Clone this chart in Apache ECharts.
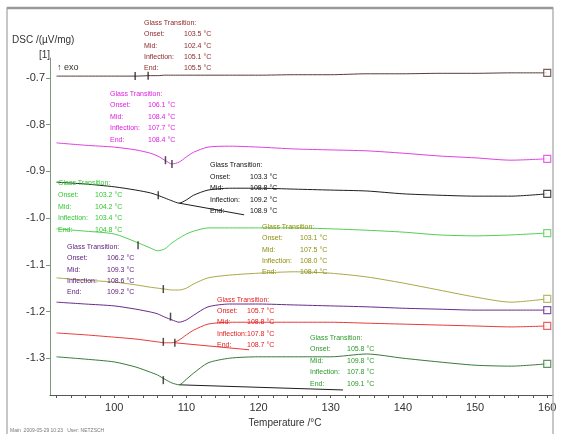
<!DOCTYPE html>
<html><head><meta charset="utf-8">
<script src="https://cdn.jsdelivr.net/npm/echarts@6/dist/echarts.min.js"></script>
<style>html,body{margin:0;padding:0;background:#fff}#c{width:563px;height:434px}</style>
</head><body><div id="c"></div>
<script>
// ---- data ----
const temps = [92,96,100,103,105,106,107,108,109,110,111,113,116,120,125,130,135,140,145,150,155,160];
const dscTop     = [-0.696,-0.696,-0.696,-0.696,-0.695,-0.695,-0.694,-0.694,-0.694,-0.694,-0.694,-0.694,-0.694,-0.694,-0.693,-0.693,-0.691,-0.691,-0.690,-0.690,-0.689,-0.689];
const dscMagenta = [-0.839,-0.844,-0.848,-0.854,-0.861,-0.867,-0.876,-0.884,-0.880,-0.869,-0.859,-0.848,-0.846,-0.848,-0.852,-0.854,-0.856,-0.861,-0.867,-0.871,-0.876,-0.873];
const dscBlack   = [-0.923,-0.927,-0.933,-0.940,-0.946,-0.951,-0.957,-0.963,-0.968,-0.961,-0.951,-0.940,-0.936,-0.936,-0.938,-0.940,-0.942,-0.948,-0.951,-0.953,-0.953,-0.948];
const dscGreen   = [-1.023,-1.028,-1.034,-1.051,-1.064,-1.070,-1.066,-1.053,-1.043,-1.034,-1.028,-1.021,-1.021,-1.021,-1.021,-1.023,-1.026,-1.030,-1.036,-1.038,-1.036,-1.032];
const dscOlive   = [-1.128,-1.133,-1.137,-1.143,-1.148,-1.150,-1.152,-1.154,-1.154,-1.150,-1.141,-1.128,-1.122,-1.118,-1.115,-1.118,-1.126,-1.139,-1.154,-1.169,-1.180,-1.173];
const dscPurple  = [-1.180,-1.184,-1.188,-1.195,-1.201,-1.205,-1.212,-1.218,-1.223,-1.218,-1.208,-1.190,-1.184,-1.184,-1.186,-1.188,-1.190,-1.193,-1.195,-1.197,-1.197,-1.197];
const dscRed     = [-1.246,-1.250,-1.255,-1.259,-1.263,-1.265,-1.267,-1.267,-1.261,-1.250,-1.240,-1.227,-1.223,-1.223,-1.223,-1.223,-1.225,-1.227,-1.229,-1.231,-1.233,-1.231];
const dscDkGreen = [-1.297,-1.302,-1.308,-1.319,-1.330,-1.336,-1.345,-1.353,-1.357,-1.345,-1.332,-1.310,-1.300,-1.297,-1.297,-1.297,-1.291,-1.300,-1.308,-1.315,-1.317,-1.312];

// tangent helper lines [temperature, value]
const tanBlack   = [[109,-0.968],[118,-0.993]];
const tanRed     = [[108.4,-1.267],[118.7,-1.282]];
const tanDkGreen = [[109,-1.357],[131.7,-1.368]];

// analysis markers [temperature, value]
const marksTop     = [[102.9,-0.696],[104.7,-0.695]];
const marksMagenta = [[107.1,-0.876],[108.0,-0.884]];
const marksBlack   = [[106.1,-0.951]];
const marksGreen   = [[103.3,-1.058]];
const marksOlive   = [[106.8,-1.152]];
const marksPurple  = [[107.8,-1.211]];
const marksRed     = [[106.8,-1.265],[108.4,-1.267]];
const marksDkGreen = [[106.8,-1.347]];

const xLabels = [100,110,120,130,140,150,160];
const xTicks = [92,94,96,98,100,102,104,106,108,110,112,114,116,118,120,122,124,126,128,130,132,134,136,138,140,142,144,146,148,150,152,154,156,158,160];
const yLabels = [-1.3,-1.2,-1.1,-1.0,-0.9,-0.8,-0.7];

const gtTitle = 'Glass Transition:';
const gtRows = ['Onset:','Mid:','Inflection:','End:'];
const valsTop     = ['103.5 °C','102.4 °C','105.1 °C','105.5 °C'];
const valsMagenta = ['106.1 °C','108.4 °C','107.7 °C','108.4 °C'];
const valsBlack   = ['103.3 °C','108.8 °C','109.2 °C','108.9 °C'];
const valsGreen   = ['103.2 °C','104.2 °C','103.4 °C','104.8 °C'];
const valsOlive   = ['103.1 °C','107.5 °C','108.0 °C','108.4 °C'];
const valsPurple  = ['106.2 °C','109.3 °C','108.6 °C','109.2 °C'];
const valsRed     = ['105.7 °C','108.8 °C','107.8 °C','108.7 °C'];
const valsDkGreen = ['105.8 °C','109.8 °C','107.8 °C','109.1 °C'];

// ---- build ----
const FONT = '"Liberation Sans", Arial, sans-serif';
const curves = [
  {d: dscTop,     c: '#5a3a3a', m: marksTop},
  {d: dscMagenta, c: '#e040e0', m: marksMagenta},
  {d: dscBlack,   c: '#1e1e1e', m: marksBlack},
  {d: dscGreen,   c: '#50d050', m: marksGreen},
  {d: dscOlive,   c: '#a9a94a', m: marksOlive},
  {d: dscPurple,  c: '#6a2a8a', m: marksPurple},
  {d: dscRed,     c: '#e83a3a', m: marksRed},
  {d: dscDkGreen, c: '#3a7a3a', m: marksDkGreen}
];
const series = [];
curves.forEach(cv => {
  series.push({type:'line', data: temps.map((t,i)=>[t, cv.d[i]]), showSymbol:false, smooth:0.25,
    lineStyle:{color:cv.c, width:1}, z:3, silent:true});
  series.push({type:'scatter', data: cv.m, symbol:'rect', symbolSize:[1.5,8],
    itemStyle:{color:'#222'}, z:5, silent:true});
  series.push({type:'scatter', data: [[temps[temps.length-1], cv.d[cv.d.length-1]]], symbol:'rect', symbolSize:7,
    itemStyle:{color:'#fff', borderColor:cv.c, borderWidth:1.2}, z:6, silent:true});
});
[[tanBlack,'#1e1e1e'],[tanRed,'#e83a3a'],[tanDkGreen,'#1e1e1e']].forEach(p => {
  series.push({type:'line', data:p[0], showSymbol:false, lineStyle:{color:p[1], width:1}, z:2, silent:true});
});

const annots = [
  {v: valsTop,     c:'#8b2a2a', x:144, xv:184, y:23,  s:11.3},
  {v: valsMagenta, c:'#e020e0', x:110, xv:148, y:94,  s:11.5},
  {v: valsBlack,   c:'#111111', x:210, xv:250, y:165, s:11.6},
  {v: valsGreen,   c:'#30c830', x:58,  xv:95,  y:183, s:11.8},
  {v: valsOlive,   c:'#8f8f10', x:262, xv:300, y:227, s:11.3},
  {v: valsPurple,  c:'#5a1a7a', x:67,  xv:107, y:247, s:11.3},
  {v: valsRed,     c:'#e02020', x:217, xv:247, y:300, s:11.2},
  {v: valsDkGreen, c:'#2a9a2a', x:310, xv:347, y:338, s:11.5}
];
const graphics = [];
const txt = (x,y,t,c,fs,extra) => Object.assign({type:'text', x:x, y:y, z:10, silent:true,
  style:{text:t, fill:c, font: fs+'px '+FONT, textVerticalAlign:'middle'}}, extra||{});
annots.forEach(a => {
  graphics.push(txt(a.x, a.y, gtTitle, a.c, 7));
  gtRows.forEach((r,i) => {
    graphics.push(txt(a.x, a.y + a.s*(i+1), r, a.c, 7));
    graphics.push(txt(a.xv, a.y + a.s*(i+1), a.v[i], a.c, 7));
  });
});
graphics.push({type:'rect', shape:{x:7,y:8,width:546,height:440}, style:{fill:'none', stroke:'#b5b5b5', lineWidth:1.5}, silent:true, z:1});
graphics.push({type:'line', shape:{x1:7,y1:8,x2:553,y2:8}, style:{stroke:'#999', lineWidth:2.5}, silent:true, z:1});
graphics.push(txt(12, 40, 'DSC /(µV/mg)', '#333', 10));
graphics.push(txt(39, 55, '[1]', '#333', 10));
graphics.push(txt(57, 68, '↑ exo', '#333', 9));
graphics.push(txt(285, 423, 'Temperature /°C', '#333', 10, {style:{text:'Temperature /°C', fill:'#333', font:'10px '+FONT, textAlign:'center', textVerticalAlign:'middle'}}));
graphics.push(txt(10, 431, 'Main  2009-05-29 10:23   User: NETZSCH', '#777', 5));

const chart = echarts.init(document.getElementById('c'), null, {renderer:'canvas'});
chart.setOption({
  animation:false,
  backgroundColor:'#fff',
  grid:{left:50, right:10, top:58, bottom:39, containLabel:false},
  xAxis:{type:'value', min:91.1, max:160.8,
    axisLine:{show:true, lineStyle:{color:'#555', width:1}},
    axisTick:{show:true, length:3, customValues:xTicks, lineStyle:{color:'#555'}},
    axisLabel:{customValues:xLabels, fontSize:11, color:'#333', margin:7, fontFamily:FONT},
    splitLine:{show:false}},
  yAxis:{type:'value', min:-1.3788, max:-0.6572,
    axisLine:{show:true, lineStyle:{color:'#7a9a7a', width:1}},
    axisTick:{show:true, length:4, customValues:yLabels, lineStyle:{color:'#7a9a7a'}},
    axisLabel:{customValues:yLabels, formatter:v=>v.toFixed(1), fontSize:11, color:'#333', margin:5, fontFamily:FONT},
    splitLine:{show:false}},
  series: series,
  graphic: graphics
});
</script></body></html>
